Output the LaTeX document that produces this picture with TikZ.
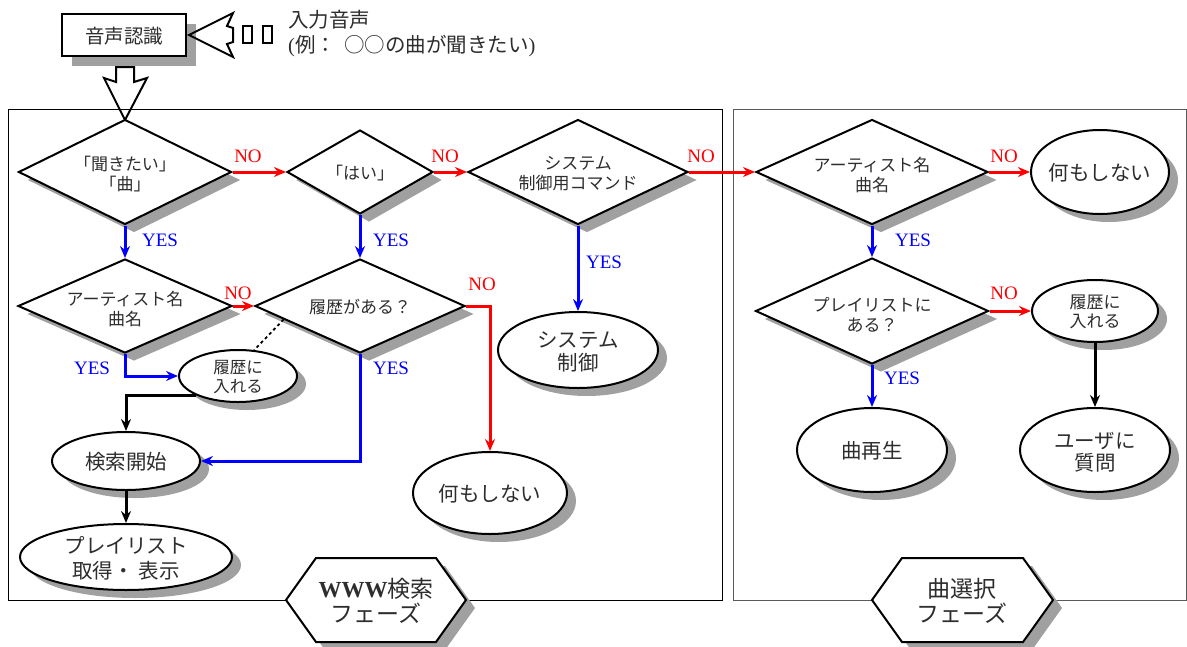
\documentclass[tikz,border=0pt]{standalone}
\usepackage{fontspec}
\setmainfont{Liberation Serif}
\newfontfamily\jp{Noto Sans CJK JP}
\usetikzlibrary{shapes.geometric,shadows,arrows.meta,calc}
\definecolor{shadowgray}{RGB}{160,160,160}
\definecolor{txtgray}{RGB}{45,45,45}
\definecolor{framegray}{RGB}{90,90,90}
\begin{document}
\begin{tikzpicture}[x=1pt,y=-1pt,
  shad/.style={drop shadow={shadow xshift=9pt,shadow yshift=-8pt,fill=shadowgray,opacity=1}},
  dia/.style={diamond,draw,line width=2pt,fill=white,inner sep=0pt,shad},
  ell/.style={ellipse,draw,line width=2pt,fill=white,inner sep=0pt,shad},
  hexa/.style={draw,line width=2pt,fill=white,line join=miter,shad},
  jt/.style={align=center,text=txtgray,inner sep=0pt,font=\jp\fontsize{17}{20}\selectfont},
  jtb/.style={align=center,text=txtgray,inner sep=0pt,font=\jp\fontsize{20.5}{23}\selectfont},
  jth/.style={align=center,text=txtgray,inner sep=0pt,font=\jp\fontsize{23}{25}\selectfont},
  tip/.style={-{Stealth[length=12pt,width=10pt,inset=4pt]}},
  nol/.style={red,line width=3pt,tip},
  yesl/.style={blue,line width=3pt,tip},
  blkl/.style={black,line width=3pt,tip},
  nolab/.style={red,inner sep=0pt,font=\fontsize{19}{19}\selectfont},
  yeslab/.style={blue,inner sep=0pt,font=\fontsize{19}{19}\selectfont}
]
\useasboundingbox[fill=white] (0,0) rectangle (1187,646);

% frames
\draw[line width=0.9pt] (8,109) rectangle (722,600);
\draw[line width=0.9pt,framegray] (733,109) rectangle (1186,600);

% speech recognition box
\node[draw,line width=2pt,fill=white,minimum width=124pt,minimum height=42pt,inner sep=0pt,
  drop shadow={shadow xshift=10pt,shadow yshift=-10pt,fill=shadowgray,opacity=1}] (asr) at (124,35) {};
\node[jt,font=\jp\fontsize{19.5}{22}\selectfont] (asrt) at (124,36) {音声認識};

% input block arrow
\draw[line width=2pt,line join=miter] (189,35) -- (233,13) -- (227,26) -- (233,28) -- (233,42) -- (227,44) -- (233,57) -- cycle;
\draw[line width=1.8pt] (243,26) rectangle (252,43);
\draw[line width=1.8pt] (263,26) rectangle (272,43);
\node[anchor=west,jt,font=\jp\fontsize{20.5}{23}\selectfont] (inp1) at (288,20) {入力音声};
\node[anchor=west,jt,font=\jp\fontsize{20.5}{23}\selectfont] (inp2) at (288,46) {{\rmfamily (}例：\hspace{8pt}○○の曲が聞きたい{\rmfamily )}};

% down block arrow
\draw[line width=2pt,line join=miter] (116,67) -- (134,67) -- (134,82) -- (147,78) -- (125,120) -- (104,78) -- (116,82) -- cycle;

% diamonds
\node[dia,minimum width=213pt,minimum height=105pt] (d1) at (125,172) {};
\node[jt] at (125,174) {「聞きたい」\\「曲」};
\node[dia,minimum width=146pt,minimum height=84pt] (d2) at (360,172) {};
\node[jt] at (360,173) {「はい」};
\node[dia,minimum width=220pt,minimum height=105pt] (d3) at (578,172) {};
\node[jt] at (578,174) {システム\\制御用コマンド};
\node[dia,minimum width=232pt,minimum height=105pt] (d4) at (872,172) {};
\node[jt] at (872,175) {アーティスト名\\曲名};
\node[dia,minimum width=214pt,minimum height=94pt] (d5) at (125,306) {};
\node[jt] at (125,309) {アーティスト名\\曲名};
\node[dia,minimum width=210pt,minimum height=94pt] (d6) at (360,306) {};
\node[jt] at (360,307) {履歴がある？};
\node[dia,minimum width=233pt,minimum height=106pt] (d7) at (872,311) {};
\node[jt] at (872,315) {プレイリストに\\ある？};

% ellipses
\node[ell,minimum width=118pt,minimum height=52pt] (r1) at (238,376) {};
\node[jt,font=\jp\fontsize{16.5}{19}\selectfont] at (238,377) {履歴に\\入れる};
\node[ell,minimum width=148pt,minimum height=58pt] (k) at (126,461) {};
\node[jtb] at (126,462) {検索開始};
\node[ell,minimum width=212pt,minimum height=66pt] (p) at (126,557) {};
\node[jtb,font=\jp\fontsize{20.5}{25}\selectfont] at (126,558) {プレイリスト\\取得・ 表示};
\node[ell,minimum width=154pt,minimum height=82pt] (n1) at (490,493) {};
\node[jtb] at (490,494) {何もしない};
\node[ell,minimum width=160pt,minimum height=76pt] (s) at (578,350) {};
\node[jtb] at (578,352) {システム\\制御};
\node[ell,minimum width=138pt,minimum height=84pt] (n2) at (1100,172) {};
\node[jtb] at (1100,173) {何もしない};
\node[ell,minimum width=126pt,minimum height=62pt] (h2) at (1095,311) {};
\node[jt,font=\jp\fontsize{17}{19}\selectfont] at (1095,312) {履歴に\\入れる};
\node[ell,minimum width=150pt,minimum height=84pt] (q) at (872,450) {};
\node[jtb] at (872,451) {曲再生};
\node[ell,minimum width=150pt,minimum height=84pt] (u) at (1095,450) {};
\node[jtb,font=\jp\fontsize{20.5}{22}\selectfont] at (1095,452) {ユーザに\\質問};

% hexagons
\draw[hexa] (286,600) -- (316,558) -- (436,558) -- (466,600) -- (436,642) -- (316,642) -- cycle;
\node[jth] (hx1) at (376,601) {{\rmfamily\bfseries WWW}検索\\フェーズ};
\draw[hexa] (872,600) -- (902,558) -- (1023,558) -- (1053,600) -- (1023,642) -- (902,642) -- cycle;
\node[jth] (hx2) at (962,601) {曲選択\\フェーズ};

% connectors
\draw[nol] (d1.east) -- (d2.west);
\draw[nol] (d2.east) -- (d3.west);
\draw[nol] (d3.east) -- (d4.west);
\draw[nol] (d4.east) -- (n2.west);
\draw[yesl] (d1.south) -- (d5.north);
\draw[yesl] (d2.south) -- (d6.north);
\draw[yesl] (d3.south) -- (s.north);
\draw[yesl] (d4.south) -- (d7.north);
\draw[nol] (d5.east) -- (d6.west);
\draw[nol] (d6.east) -| (n1.north);
\draw[yesl] (d5.south) |- (r1.west);
\draw[blkl] (r1.south west) -| (k.north);
\draw[yesl] (d6.south) |- (k.east);
\draw[blkl] (k.south) -- (p.north);
\draw[dashed,line width=1.8pt] ($(d6.west)!0.28!(d6.south)$) -- (r1.58);
\draw[nol] (d7.east) -- (h2.west);
\draw[yesl] (d7.south) -- (q.north);
\draw[blkl] (h2.south) -- (u.north);

% labels
\node[nolab] at (248,156) {NO};
\node[nolab] at (445,156) {NO};
\node[nolab] at (701,156) {NO};
\node[nolab] at (1004,156) {NO};
\node[nolab] at (238,293) {NO};
\node[nolab] at (482,284) {NO};
\node[nolab] at (1004,293) {NO};
\node[yeslab] at (160,240) {YES};
\node[yeslab] at (391,240) {YES};
\node[yeslab] at (604,262) {YES};
\node[yeslab] at (913,240) {YES};
\node[yeslab] at (92,368) {YES};
\node[yeslab] at (391,368) {YES};
\node[yeslab] at (902,378) {YES};
\end{tikzpicture}
\end{document}
